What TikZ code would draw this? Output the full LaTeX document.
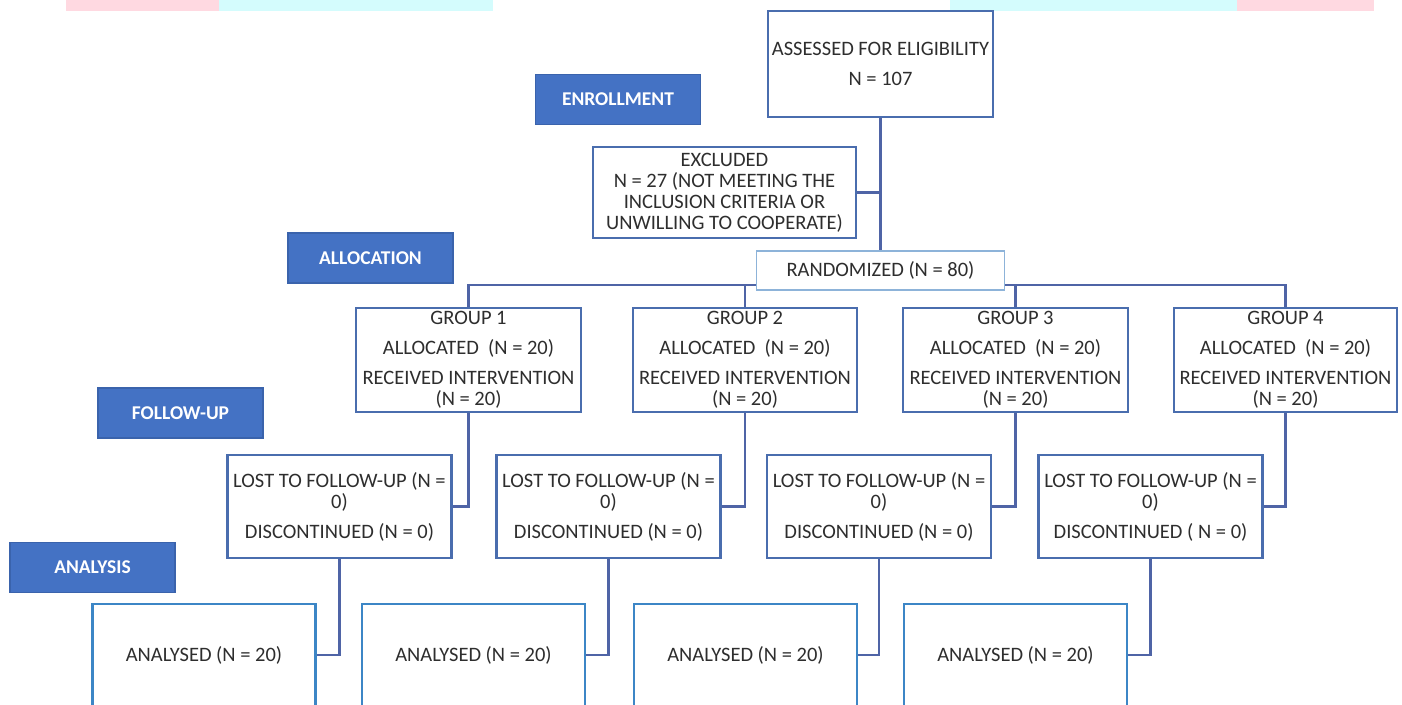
\documentclass[tikz,border=0pt]{standalone}
\usepackage{fontspec}
\setmainfont{Carlito}
\definecolor{bandpink}{HTML}{FFD9E1}
\definecolor{bandcyan}{HTML}{D4FCFD}
\definecolor{boxline}{HTML}{4A6DAE}
\definecolor{connline}{HTML}{4F64A6}
\definecolor{lightline}{HTML}{8DB3D9}
\definecolor{analline}{HTML}{3C86C6}
\definecolor{labfill}{HTML}{4472C4}
\definecolor{labline}{HTML}{3A63AC}
\definecolor{txt}{HTML}{2E2E2E}
\tikzset{
  whitebox/.style={draw=boxline, line width=2.2pt, fill=white, rectangle, inner sep=0pt,
    align=center, text=txt, font=\fontsize{20.5}{21}\selectfont},
  labelbox/.style={draw=labline, line width=1.5pt, fill=labfill, rectangle, inner sep=0pt,
    minimum width=165pt, minimum height=50pt, text=white, font=\fontsize{19.5}{21}\selectfont\bfseries},
  conn/.style={draw=connline, line width=2.6pt}
}
\begin{document}
\begin{tikzpicture}[x=1pt,y=-1pt]
\useasboundingbox (0,0) rectangle (1402,704);
\clip (0,0) rectangle (1402,704);
\fill[white] (0,0) rectangle (1402,704);
% top colour bands
\fill[bandpink] (66,0) rectangle (219,11);
\fill[bandcyan] (219,0) rectangle (493,11);
\fill[bandcyan] (950,0) rectangle (1237,11);
\fill[bandpink] (1237,0) rectangle (1374,11);

% stage labels
\node[labelbox] (enroll) at (618,99.5) {ENROLLMENT};
\node[labelbox] (alloc) at (370.5,258) {ALLOCATION};
\node[labelbox] (follow) at (180.5,413) {FOLLOW-UP};
\node[labelbox] (analysis) at (92.5,567.5) {ANALYSIS};

% top part
\node[whitebox, minimum width=225pt, minimum height=106pt] (assess) at (880.5,64)
  {ASSESSED FOR ELIGIBILITY\\[9pt]N = 107};
\node[whitebox, minimum width=263pt, minimum height=91pt] (excl) at (724.5,192.5)
  {EXCLUDED\\N = 27 (NOT MEETING THE\\INCLUSION CRITERIA OR\\UNWILLING TO COOPERATE)};
\coordinate (bus) at (0,285);

% groups
\foreach \i/\cx/\w in {1/468.5/225, 2/745/224, 3/1015.5/225, 4/1285.5/223}{
  \node[whitebox, minimum width=\w pt, minimum height=104pt] (g\i) at (\cx,360)
    {GROUP \i\\[9pt]ALLOCATED\ \ (N = 20)\\[9pt]RECEIVED INTERVENTION\\(N = 20)};
}
% lost to follow-up
\foreach \i/\cx in {1/339.5, 2/608.5, 3/879, 4/1150.5}{
  \ifnum\i=4
  \node[whitebox, minimum width=224pt, minimum height=103pt] (l\i) at (\cx,506.5)
    {LOST TO FOLLOW-UP (N =\\0)\\[9pt]DISCONTINUED ( N = 0)};
  \else
  \node[whitebox, minimum width=224pt, minimum height=103pt] (l\i) at (\cx,506.5)
    {LOST TO FOLLOW-UP (N =\\0)\\[9pt]DISCONTINUED (N = 0)};
  \fi
}
% analysed
\foreach \i/\cx in {1/204, 2/473.5, 3/745.5, 4/1015.5}{
  \node[whitebox, draw=analline, minimum width=223pt, minimum height=102pt] (a\i) at (\cx,655)
    {ANALYSED (N = 20)};
}

% connectors
\draw[conn] (assess.south) -- (assess.south |- 0,251);
\draw[conn] (excl.east) -- (excl.east -| assess.south);
\draw[conn] (g1.north) |- (bus -| g4.north) -- (g4.north);
\draw[conn] (g2.north) -- (g2.north |- bus);
\draw[conn] (g3.north) -- (g3.north |- bus);
\node[whitebox, draw=lightline, line width=1.6pt, minimum width=248pt, minimum height=39pt] (rand) at (880.5,270.5)
  {RANDOMIZED (N = 80)};
\foreach \i in {1,2,3,4}{
  \draw[conn] (g\i.south) |- (l\i.east);
  \draw[conn] (l\i.south) |- (a\i.east);
}
\end{tikzpicture}
\end{document}
